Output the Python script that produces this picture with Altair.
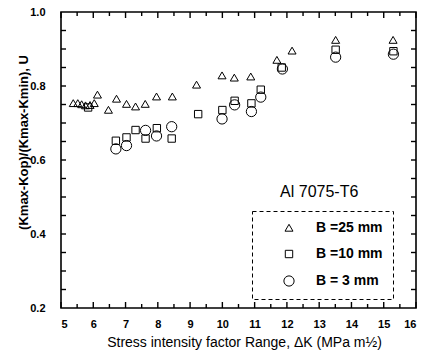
import altair as alt
import pandas as pd

# ---- data ----
labels = ["B =25 mm", "B =10 mm", "B = 3 mm"]

tri_k = [5.38, 5.52, 5.64, 5.76, 5.90, 6.03, 6.13, 6.47, 6.72, 7.03, 7.31, 7.61,
         7.96, 8.45, 9.20, 9.99, 10.37, 10.88, 11.69, 12.16, 13.51, 15.29]
tri_u = [0.753, 0.753, 0.750, 0.747, 0.748, 0.753, 0.776, 0.735, 0.765, 0.751, 0.744, 0.751,
         0.771, 0.771, 0.803, 0.828, 0.822, 0.825, 0.870, 0.895, 0.924, 0.924]

sq_k = [5.84, 6.70, 7.03, 7.31, 7.62, 7.97, 8.43, 9.25, 10.00, 10.38, 10.90, 11.19, 11.84, 13.51, 15.30]
sq_u = [0.742, 0.652, 0.661, 0.681, 0.658, 0.686, 0.658, 0.724, 0.735, 0.760, 0.753, 0.790, 0.850, 0.898, 0.894]

circ_k = [6.70, 7.03, 7.62, 7.96, 8.43, 9.99, 10.38, 10.90, 11.19, 11.86, 13.51, 15.30]
circ_u = [0.630, 0.639, 0.680, 0.665, 0.690, 0.711, 0.749, 0.731, 0.770, 0.846, 0.878, 0.886]

# axis tick values
x_major = list(range(5, 17))
x_minor = [v + 0.5 for v in range(5, 16)]
y_labels = [0.2, 0.4, 0.6, 0.8, 1.0]
y_ticks = [round(0.25 + 0.05 * i, 2) for i in range(15)]

rows = []
for ks, us, lab in [(tri_k, tri_u, labels[0]), (sq_k, sq_u, labels[1]), (circ_k, circ_u, labels[2])]:
    for k, u in zip(ks, us):
        rows.append({"K": k, "U": u, "B": lab})
df = pd.DataFrame(rows)

W, H = 355, 296
FONT = "Liberation Sans"

xs = alt.Scale(domain=[5, 16], nice=False, zero=False)
ys = alt.Scale(domain=[0.2, 1.0], nice=False, zero=False)

x_axis = alt.Axis(
    orient="bottom", values=x_major, tickSize=0, labelPadding=10, domain=False, grid=False,
    labelFont=FONT, labelFontSize=11, labelFontWeight="bold", labelColor="black",
    title="Stress intensity factor Range, ΔK (MPa m½)", titleFont=FONT, titleFontSize=14,
    titleFontWeight="normal", titleColor="black", titleX=183, titleY=34,
    titleBaseline="middle", titleAlign="center")
y_axis = alt.Axis(
    orient="left", values=y_labels, format=".1f", tickSize=0, labelPadding=16, domain=False,
    grid=False, labelFont=FONT, labelFontSize=11, labelFontWeight="bold", labelColor="black",
    title="(Kmax-Kop)/(Kmax-Kmin), U", titleFont=FONT, titleFontSize=13,
    titleFontWeight="bold", titleColor="black", titleX=-38, titleY=130,
    titleBaseline="middle", titleAlign="center", titleAngle=-90)

TRI = "M0,-0.72L0.78,0.62L-0.78,0.62Z"
SQ = "M-0.72,-0.72L0.72,-0.72L0.72,0.72L-0.72,0.72Z"

points = alt.Chart(df).mark_point(filled=False, stroke="black", strokeWidth=1, opacity=1, size=105).encode(
    x=alt.X("K:Q", scale=xs, axis=x_axis),
    y=alt.Y("U:Q", scale=ys, axis=y_axis),
    shape=alt.Shape("B:N", scale=alt.Scale(domain=labels, range=[TRI, SQ, "circle"]),
                    legend=alt.Legend(
                        title=None, orient="none", legendX=191, legendY=199, direction="vertical",
                        padding=10, strokeColor="black",
                        fillColor="white", symbolSize=105, symbolStrokeColor="black",
                        symbolFillColor="transparent", symbolStrokeWidth=1, symbolOffset=20,
                        labelOffset=20, rowPadding=12, labelFont=FONT, labelFontSize=14,
                        labelFontWeight="bold", labelColor="black")),
)

xmaj = pd.DataFrame({"tv": x_major})
xmin = pd.DataFrame({"tv": x_minor})
ytk = pd.DataFrame({"tv": y_ticks})


def xticks(d, length, top):
    # tick drawn as a one-line symbol anchored on the frame edge
    path = "M0,0L0,1" if top else "M0,0L0,-1"
    return alt.Chart(d).mark_point(
        shape=path, filled=False, stroke="black", strokeWidth=1.4, opacity=1,
        size=(2 * length) ** 2,
    ).encode(
        x=alt.X("tv:Q", scale=xs, axis=x_axis),
        y=alt.value(0 if top else H),
    )


def yticks(d, length, right):
    path = "M0,0L-1,0" if right else "M0,0L1,0"
    return alt.Chart(d).mark_point(
        shape=path, filled=False, stroke="black", strokeWidth=1.4, opacity=1,
        size=(2 * length) ** 2,
    ).encode(
        y=alt.Y("tv:Q", scale=ys, axis=y_axis),
        x=alt.value(W if right else 0),
    )


tick_layers = [
    xticks(xmaj, 6, False), xticks(xmaj, 6, True),
    xticks(xmin, 4, False), xticks(xmin, 4, True),
    yticks(ytk, 5, False), yticks(ytk, 5, True),
]

note = alt.Chart(pd.DataFrame({"t": ["Al 7075-T6"]})).mark_text(
    font=FONT, fontSize=16, color="black", align="center", baseline="middle"
).encode(
    x=alt.XDatum(13.0, scale=xs, axis=x_axis),
    y=alt.YDatum(0.514, scale=ys, axis=y_axis),
    text="t:N",
)

chart = alt.layer(points, *tick_layers, note).properties(
    width=W, height=H,
    padding={"left": 61, "top": 12, "right": 12, "bottom": 47},
    autosize=alt.AutoSizeParams(type="none"),
    background="white",
).configure_view(stroke="black", strokeWidth=1.6).configure_legend(strokeDash=[4, 3])

chart.save("out.html", embed_options={"renderer": "svg", "actions": False})
